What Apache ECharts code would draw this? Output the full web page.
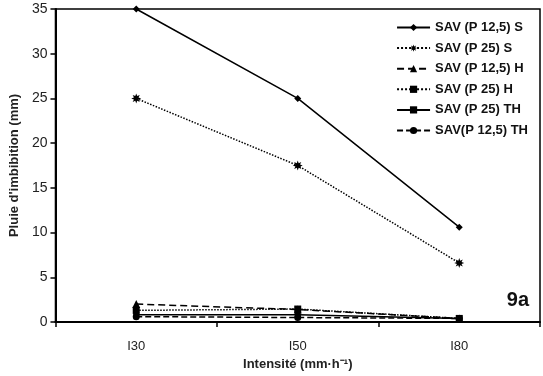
<!DOCTYPE html>
<html>
<head>
<meta charset="utf-8">
<script src="https://cdn.jsdelivr.net/npm/echarts@6/dist/echarts.min.js"></script>
<style>
  html, body {margin: 0; padding: 0; background: #fff;}
  #chart {width: 543px; height: 376px;}
</style>
</head>
<body>
<div id="chart"></div>
<script>
const categories = ['I30', 'I50', 'I80'];
const yTicks = [0, 5, 10, 15, 20, 25, 30, 35];

const savP125S = [35, 25, 10.6];
const savP25S = [25, 17.5, 6.6];
const savP125H = [2.0, 1.4, 0.4];
const savP25H = [1.3, 1.45, 0.4];
const savP25TH = [0.8, 0.8, 0.4];
const savP125TH = [0.6, 0.5, 0.4];

// étoile à 8 branches pour SAV (P 25) S
const starPath = 'path://M10,0L11.91,5.38L17.07,2.93L14.62,8.09L20,10L14.62,11.91L17.07,17.07L11.91,14.62L10,20L8.09,14.62L2.93,17.07L5.38,11.91L0,10L5.38,8.09L2.93,2.93L8.09,5.38Z';

const chart = echarts.init(document.getElementById('chart'), null, {renderer: 'canvas'});

const mkSeries = (name, data, symbol, symbolSize, lineType) => ({
    name,
    type: 'line',
    data,
    symbol,
    symbolSize,
    lineStyle: {color: '#000', width: 1.5, type: lineType},
    itemStyle: {color: '#000'},
    z: 3
});

const option = {
    backgroundColor: '#fff',
    animation: false,
    grid: {
        left: 52,
        right: 3,
        top: 9,
        bottom: 54,
        show: true,
        borderColor: '#000',
        borderWidth: 1.5
    },
    legend: {
        orient: 'vertical',
        right: 10,
        top: 16,
        itemWidth: 33,
        itemHeight: 9,
        itemGap: 7.6,
        textStyle: {
            color: '#111',
            fontFamily: 'Liberation Sans',
            fontWeight: 'bold',
            fontSize: 13
        },
        data: ['SAV (P 12,5) S', 'SAV (P 25) S', 'SAV (P 12,5) H', 'SAV (P 25) H', 'SAV (P 25) TH', 'SAV(P 12,5) TH']
    },
    xAxis: {
        type: 'category',
        data: categories,
        name: 'Intensité (mm·h⁻¹)',
        nameLocation: 'middle',
        nameGap: 35,
        nameTextStyle: {
            color: '#222',
            fontFamily: 'Liberation Sans',
            fontWeight: 'bold',
            fontSize: 13
        },
        axisLine: {lineStyle: {color: '#000', width: 2}},
        axisTick: {show: true, length: 5, lineStyle: {color: '#000', width: 1.5}},
        axisLabel: {
            margin: 18,
            color: '#222',
            fontFamily: 'Liberation Sans',
            fontSize: 13
        },
        splitLine: {show: false}
    },
    yAxis: {
        type: 'value',
        min: yTicks[0],
        max: yTicks[yTicks.length - 1],
        interval: 5,
        name: "Pluie d'imbibition (mm)",
        nameLocation: 'middle',
        nameGap: 25,
        nameTextStyle: {
            color: '#222',
            fontFamily: 'Liberation Sans',
            fontWeight: 'bold',
            fontSize: 13
        },
        axisLine: {show: true, lineStyle: {color: '#000', width: 2}},
        axisTick: {show: true, length: 5, lineStyle: {color: '#000', width: 1.5}},
        axisLabel: {
            margin: 8,
            color: '#222',
            fontFamily: 'Liberation Sans',
            fontSize: 14
        },
        splitLine: {show: false}
    },
    graphic: [{
        type: 'text',
        right: 14,
        top: 290,
        style: {
            text: '9a',
            fill: '#111',
            font: 'bold 20px "Liberation Sans"'
        }
    }],
    series: [
        mkSeries('SAV (P 12,5) S', savP125S, 'diamond', 7, 'solid'),
        mkSeries('SAV (P 25) S', savP25S, starPath, 10, 'dotted'),
        mkSeries('SAV (P 12,5) H', savP125H, 'triangle', 8, [7, 4]),
        mkSeries('SAV (P 25) H', savP25H, 'rect', 7, 'dotted'),
        mkSeries('SAV (P 25) TH', savP25TH, 'rect', 6, 'solid'),
        mkSeries('SAV(P 12,5) TH', savP125TH, 'circle', 7, [6, 3])
    ]
};

chart.setOption(option);
</script>
</body>
</html>
